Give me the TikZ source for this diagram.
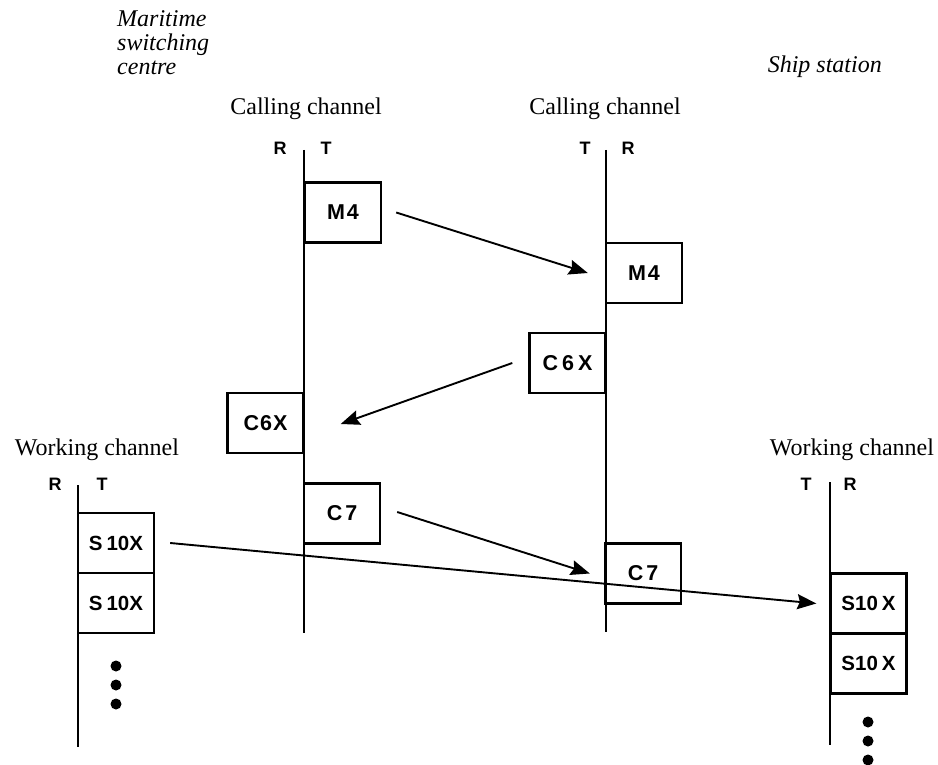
\documentclass[tikz,border=0pt]{standalone}
\usepackage{fontspec}
\setmainfont{Liberation Serif}
\newfontfamily\lsans{Liberation Sans}
\usetikzlibrary{arrows.meta}
\begin{document}
\begin{tikzpicture}[x=1pt,y=-1pt,
  msgbox/.style={draw,line width=2.4pt,minimum width=76pt,minimum height=60pt,inner sep=0pt,
    font=\lsans\bfseries\fontsize{21.5}{21.5}\selectfont},
  sbox/.style={msgbox,font=\lsans\bfseries\fontsize{20.5}{20.5}\selectfont},
  chline/.style={line width=2.8pt},
  sig/.style={line width=1.9pt,-{Stealth[length=19pt,width=15pt,inset=2.5pt]}},
  rt/.style={inner sep=0pt,anchor=base,font=\lsans\bfseries\fontsize{18}{18}\selectfont},
  chlabel/.style={inner sep=0pt,anchor=base,font=\fontsize{24}{24}\selectfont},
  ital/.style={inner sep=0pt,anchor=base west,font=\itshape\fontsize{24}{24}\selectfont},
  dot/.style={fill,circle,minimum size=11pt,inner sep=0pt}]
\useasboundingbox (0,0) rectangle (938,765);

% headings
\node[ital] (mt1) at (117,27) {Maritime};
\node[ital] (mt2) at (117,51) {switching};
\node[ital] (mt3) at (117,75) {centre};
\node[ital,anchor=base east] (ship) at (882,73) {Ship station};

\node[chlabel] (cc1) at (306,115) {Calling channel};
\node[chlabel] (cc2) at (605,115) {Calling channel};
\node[chlabel] (wc1) at (97,455) {Working channel};
\node[chlabel] (wc2) at (852,455) {Working channel};

% R/T labels
\node[rt] (r1) at (280,155) {R};
\node[rt] (t1) at (326,155) {T};
\node[rt] (t2) at (585,155) {T};
\node[rt] (r2) at (628,155) {R};
\node[rt] (r3) at (55,490) {R};
\node[rt] (t3) at (102,490) {T};
\node[rt] (t4) at (806,490) {T};
\node[rt] (r4) at (850,490) {R};

% channel lines
\coordinate (l1a) at (304,150); \coordinate (l1b) at (304,633);
\coordinate (l2a) at (606,150); \coordinate (l2b) at (606,632);
\coordinate (l3a) at (78,485);  \coordinate (l3b) at (78,747);
\coordinate (l4a) at (830,482); \coordinate (l4b) at (830,745);
\draw[chline] (l1a) -- (l1b);
\draw[chline] (l2a) -- (l2b);
\draw[chline] (l3a) -- (l3b);
\draw[chline] (l4a) -- (l4b);

% boxes
\node[msgbox] (m4a) at (343,212.5) {M\hspace{2pt}4};
\node[msgbox] (m4b) at (644,273) {M\hspace{2pt}4};
\node[msgbox] (c6b) at (567.5,363) {C\hspace{4pt}6\hspace{4pt}X};
\node[msgbox] (c6a) at (265.5,423) {C\hspace{1pt}6\hspace{1pt}X};
\node[msgbox] (c7a) at (342,513.5) {C\hspace{3pt}7};
\node[msgbox] (c7b) at (643,573.5) {C\hspace{3pt}7};
\node[sbox] (s1a) at (116,543) {S\hspace{4pt}10X};
\node[sbox] (s1b) at (116,603) {S\hspace{4pt}10X};
\node[sbox] (s2a) at (868.5,603.5) {S10\hspace{4pt}X};
\node[sbox] (s2b) at (868.5,663.5) {S10\hspace{4pt}X};

% dots
\node[dot] (d1) at (116,666) {};
\node[dot] (d2) at (116,685) {};
\node[dot] (d3) at (116,704) {};
\node[dot] (d4) at (868,722) {};
\node[dot] (d5) at (868,741) {};
\node[dot] (d6) at (868,760) {};

% signals
\draw[sig] ([xshift=14pt]m4a.east) -- ([xshift=-17pt]m4b.west);
\draw[sig] ([xshift=-16pt]c6b.west) -- ([xshift=36pt,yshift=-1pt]c6a.east);
\draw[sig] ([xshift=16pt,yshift=1.5pt]c7a.east) -- ([xshift=-14pt]c7b.west);
\draw[sig] ([xshift=15pt]s1a.east) -- ([xshift=-13pt]s2a.west);
\end{tikzpicture}
\end{document}
